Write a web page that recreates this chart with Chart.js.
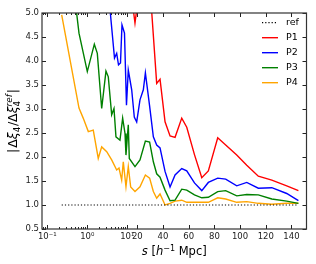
<!DOCTYPE html>
<html>
<head>
<meta charset="utf-8">
<script src="https://cdn.jsdelivr.net/npm/chart.js@4.4.1/dist/chart.umd.min.js"></script>
<style>
  html, body { margin: 0; padding: 0; background: #fff; }
  canvas { display: block; }
</style>
</head>
<body>
<canvas id="myChart" width="316" height="264"></canvas>
<script>
  // data, s in h^-1 Mpc
  var refS = [0.229, 145.4];
  var refVals = [1.0, 1.0];

  var p1S = [15.2, 17.7, 20.2, 22.1, 26.3, 29.6, 32.5, 35.1, 37.7, 41.6, 45.5, 49.4, 54.6, 58.5, 64.5,
             70.2, 75.3, 82.6, 88.8, 97.4, 105.2, 114.2, 124.7, 136.3, 145.4];
  var p1Vals = [5.2, 4.79, 5.2, 5.5, 5.8, 5.65, 4.53, 3.535, 3.62, 2.735, 2.44, 2.41, 2.81, 2.62, 2.05,
                1.57, 1.71, 2.40, 2.25, 2.04, 1.83, 1.60, 1.52, 1.40, 1.30];

  var p2S = [3.49, 4.79, 5.43, 6.03, 6.76, 7.37, 8.51, 9.54, 11, 14.4, 17, 19.4, 22.1, 24.7, 26.3, 29.6,
             32.5, 35.1, 37.7, 41.6, 45.5, 49.4, 54.6, 58.5, 64.5, 70.2, 75.3, 82.6, 88.8, 97.4, 105.2,
             114.2, 124.7, 136.3, 145.4];
  var p2Vals = [5.3, 4.06, 4.16, 3.92, 3.96, 4.75, 4.58, 3.08, 3.81, 3.40, 2.83, 2.73, 3.19, 3.40, 3.75, 3.06,
                2.42, 2.25, 2.19, 1.70, 1.375, 1.625, 1.76, 1.71, 1.46, 1.30, 1.47, 1.56, 1.54, 1.40, 1.47,
                1.35, 1.36, 1.24, 1.09];

  var p3S = [0.49, 0.62, 1.0, 1.5, 1.78, 2.29, 2.93, 3.35, 4.07, 4.65, 5.21, 6.56, 7.66, 8.77, 9.27, 11, 12,
             17.7, 22.1, 26.3, 29.6, 32.5, 35.1, 37.7, 41.6, 45.5, 49.4, 54.6, 58.5, 64.5, 70.2, 75.3,
             82.6, 88.8, 97.4, 105.2, 114.2, 124.7, 136.3, 145.4];
  var p3Vals = [5.3, 4.58, 3.78, 4.35, 4.16, 3.01, 3.79, 3.67, 2.88, 3.01, 2.42, 2.35, 2.81, 2.49, 2.04, 2.67, 1.97,
                1.80, 1.94, 2.33, 2.31, 1.90, 1.65, 1.58, 1.31, 1.09, 1.10, 1.33, 1.31, 1.21, 1.15, 1.16,
                1.28, 1.30, 1.19, 1.22, 1.21, 1.125, 1.08, 1.035];

  var p4S = [0.229, 0.62, 0.79, 1.06, 1.41, 1.88, 2.29, 3.06, 4.07, 5.43, 6.2, 7.24, 7.94, 9.27, 11, 13.4,
             17.7, 22.1, 26.3, 29.6, 32.5, 35.1, 37.7, 41.6, 45.5, 49.4, 54.6, 58.5, 64.5, 70.2, 75.3,
             82.6, 88.8, 97.4, 105.2, 114.2, 124.7, 136.3, 145.4];
  var p4Vals = [4.96, 3.02, 2.81, 2.53, 2.56, 1.97, 2.21, 2.11, 1.94, 1.73, 1.77, 1.52, 1.90, 1.38, 1.80, 1.375,
                1.28, 1.38, 1.625, 1.56, 1.28, 1.14, 1.23, 1.0, 1.035, 1.08, 1.10, 1.056, 1.056, 1.056, 1.056,
                1.15, 1.125, 1.056, 1.07, 1.035, 1.015, 1.035, 1.035];

  var xTickS = [0.1, 1, 10, 20, 40, 60, 80, 100, 120, 140];
  var xTickLabels = ['10\u207B\u00B9', '10\u2070', '10\u00B9', '20', '40', '60', '80', '100', '120', '140'];
  var xMinorS = [0.08, 0.09, 0.2, 0.3, 0.4, 0.5, 0.6, 0.7, 0.8, 0.9, 2, 3, 4, 5, 6, 7, 8, 9];

  var FONT = '"DejaVu Sans", sans-serif';

  // axis is log below 10, then linear (two slopes)
  function toU(s) {
    if (s <= 10) return 40 * Math.log10(s);
    if (s <= 20) return 40 + (s - 10);
    return 50 + (s - 20) * 1.285;
  }
  function fromU(u) {
    if (u <= 40) return Math.pow(10, u / 40);
    if (u <= 50) return 10 + (u - 40);
    return 20 + (u - 50) / 1.285;
  }

  class PiecewiseScale extends Chart.LinearScale {
    determineDataLimits() {
      this.min = this.options.min;
      this.max = this.options.max;
    }
    buildTicks() {
      return xTickS.map(function (s) { return { value: s }; });
    }
    getPixelForValue(value) {
      var u0 = toU(this.min), u1 = toU(this.max);
      return this.getPixelForDecimal((toU(value) - u0) / (u1 - u0));
    }
    getValueForPixel(pixel) {
      var u0 = toU(this.min), u1 = toU(this.max);
      return fromU(u0 + this.getDecimalForPixel(pixel) * (u1 - u0));
    }
  }
  PiecewiseScale.id = 'piecewise';
  PiecewiseScale.defaults = Chart.LinearScale.defaults;
  Chart.register(PiecewiseScale);

  function pairs(xs, ys) {
    return xs.map(function (s, i) { return { x: s, y: ys[i] }; });
  }

  function fontOf(r) {
    return (r.italic ? 'italic ' : '') + r.size + 'px ' + FONT;
  }

  // mixed text: italic letters, sub and superscripts
  function drawRuns(ctx, runs, cx, baseY) {
    var x = 0, prevStart = 0, prevW = 0, items = [];
    runs.forEach(function (r) {
      ctx.font = fontOf(r);
      var w = ctx.measureText(r.t).width + (r.gap || 0);
      if (r.stack) {
        items.push({ r: r, x: prevStart });
        x += Math.max(0, w - prevW);
      } else {
        items.push({ r: r, x: x });
        prevStart = x; prevW = w; x += w;
      }
    });
    var start = cx - x / 2;
    ctx.fillStyle = '#000';
    ctx.textBaseline = 'alphabetic';
    ctx.textAlign = 'left';
    items.forEach(function (it) {
      ctx.font = fontOf(it.r);
      ctx.fillText(it.r.t, start + it.x, baseY + (it.r.dy || 0));
    });
  }

  var axisTitles = {
    id: 'axisTitles',
    afterDraw: function (chart) {
      var ctx = chart.ctx, a = chart.chartArea;
      var F = 11.5, S = 8;
      ctx.save();
      drawRuns(ctx, [
        { t: 's', size: F, italic: true },
        { t: ' [', size: F },
        { t: 'h', size: F, italic: true },
        { t: '\u22121', size: S, dy: -4.5 },
        { t: ' Mpc]', size: F }
      ], (a.left + a.right) / 2, 255);
      var G = 12.5, T = 8.8;
      ctx.translate(17, (a.top + a.bottom) / 2);
      ctx.rotate(-Math.PI / 2);
      drawRuns(ctx, [
        { t: '|', size: G, gap: 1 },
        { t: '\u0394', size: G },
        { t: '\u03BE', size: G, italic: true },
        { t: '4', size: T, dy: 2.5, gap: 0.5 },
        { t: '/', size: G },
        { t: '\u0394', size: G },
        { t: '\u03BE', size: G, italic: true },
        { t: '4', size: T, dy: 2.5 },
        { t: 'ref', size: T, italic: true, dy: -5.5, stack: true, gap: 1 },
        { t: '|', size: G }
      ], 0, 0);
      ctx.restore();
    }
  };

  var frameTicks = {
    id: 'frameTicks',
    afterDraw: function (chart) {
      var ctx = chart.ctx, a = chart.chartArea, x = chart.scales.x, y = chart.scales.y;
      ctx.save();
      ctx.strokeStyle = '#222';
      ctx.lineWidth = 1;
      ctx.beginPath();
      function xt(s, len) {
        var px = Math.round(x.getPixelForValue(s)) + 0.5;
        if (px < a.left || px > a.right) return;
        ctx.moveTo(px, a.bottom); ctx.lineTo(px, a.bottom - len);
        ctx.moveTo(px, a.top); ctx.lineTo(px, a.top + len);
      }
      xTickS.forEach(function (s) { xt(s, 4); });
      xMinorS.forEach(function (s) { xt(s, 2); });
      y.ticks.forEach(function (t) {
        var py = Math.round(y.getPixelForValue(t.value)) + 0.5;
        ctx.moveTo(a.left, py); ctx.lineTo(a.left + 4, py);
        ctx.moveTo(a.right, py); ctx.lineTo(a.right - 4, py);
      });
      ctx.stroke();
      ctx.strokeStyle = '#333';
      ctx.lineWidth = 1.2;
      ctx.strokeRect(a.left, a.top, a.right - a.left, a.bottom - a.top);
      ctx.restore();
    }
  };

  var legendBox = {
    id: 'legendBox',
    afterDraw: function (chart) {
      var ctx = chart.ctx, a = chart.chartArea;
      ctx.save();
      chart.data.datasets.forEach(function (ds, i) {
        var yy = a.top + 9.7 + i * 15;
        ctx.beginPath();
        ctx.strokeStyle = ds.borderColor;
        ctx.lineWidth = ds.borderWidth;
        ctx.setLineDash(ds.borderDash || []);
        ctx.moveTo(a.right - 44.5, yy);
        ctx.lineTo(a.right - 28.5, yy);
        ctx.stroke();
        ctx.setLineDash([]);
        ctx.fillStyle = '#000';
        ctx.font = '9.5px ' + FONT;
        ctx.textBaseline = 'middle';
        ctx.textAlign = 'left';
        ctx.fillText(ds.label, a.right - 20.5, yy);
      });
      ctx.restore();
    }
  };

  function line(label, color, xs, ys, dash) {
    return {
      label: label,
      data: pairs(xs, ys),
      borderColor: color,
      backgroundColor: color,
      borderWidth: dash ? 1.2 : 1.4,
      borderDash: dash,
      pointRadius: 0,
      fill: false,
      tension: 0,
      clip: 0
    };
  }

  var ctx = document.getElementById('myChart').getContext('2d');
  this.chart = new Chart(ctx, {
    type: 'line',
    data: {
      datasets: [
        line('ref', '#000000', refS, refVals, [1.2, 2]),
        line('P1', '#ff0000', p1S, p1Vals),
        line('P2', '#0000ff', p2S, p2Vals),
        line('P3', '#008000', p3S, p3Vals),
        line('P4', '#ffa500', p4S, p4Vals)
      ]
    },
    options: {
      responsive: false,
      animation: false,
      devicePixelRatio: 1,
      layout: { padding: { left: 0, right: 9.5, top: 13, bottom: 0 } },
      plugins: { legend: { display: false }, tooltip: { enabled: false } },
      scales: {
        x: {
          type: 'piecewise',
          min: 0.0737,
          max: 151.7,
          grid: { display: false, drawTicks: false },
          border: { display: false },
          afterFit: function (scale) { scale.height = 35; },
          ticks: {
            autoSkip: false,
            maxRotation: 0,
            padding: 3,
            color: '#222',
            font: { family: FONT, size: 8.5 },
            callback: function (value) {
              var i = xTickS.indexOf(value);
              return i >= 0 ? xTickLabels[i] : '';
            }
          }
        },
        y: {
          type: 'linear',
          min: 0.5,
          max: 5.0,
          grid: { display: false, drawTicks: false },
          border: { display: false },
          afterFit: function (scale) { scale.width = 42; },
          ticks: {
            stepSize: 0.5,
            padding: 3,
            color: '#222',
            font: { family: FONT, size: 8.5 },
            callback: function (value) { return value.toFixed(1); }
          }
        }
      }
    },
    plugins: [frameTicks, legendBox, axisTitles]
  });
</script>
</body>
</html>
